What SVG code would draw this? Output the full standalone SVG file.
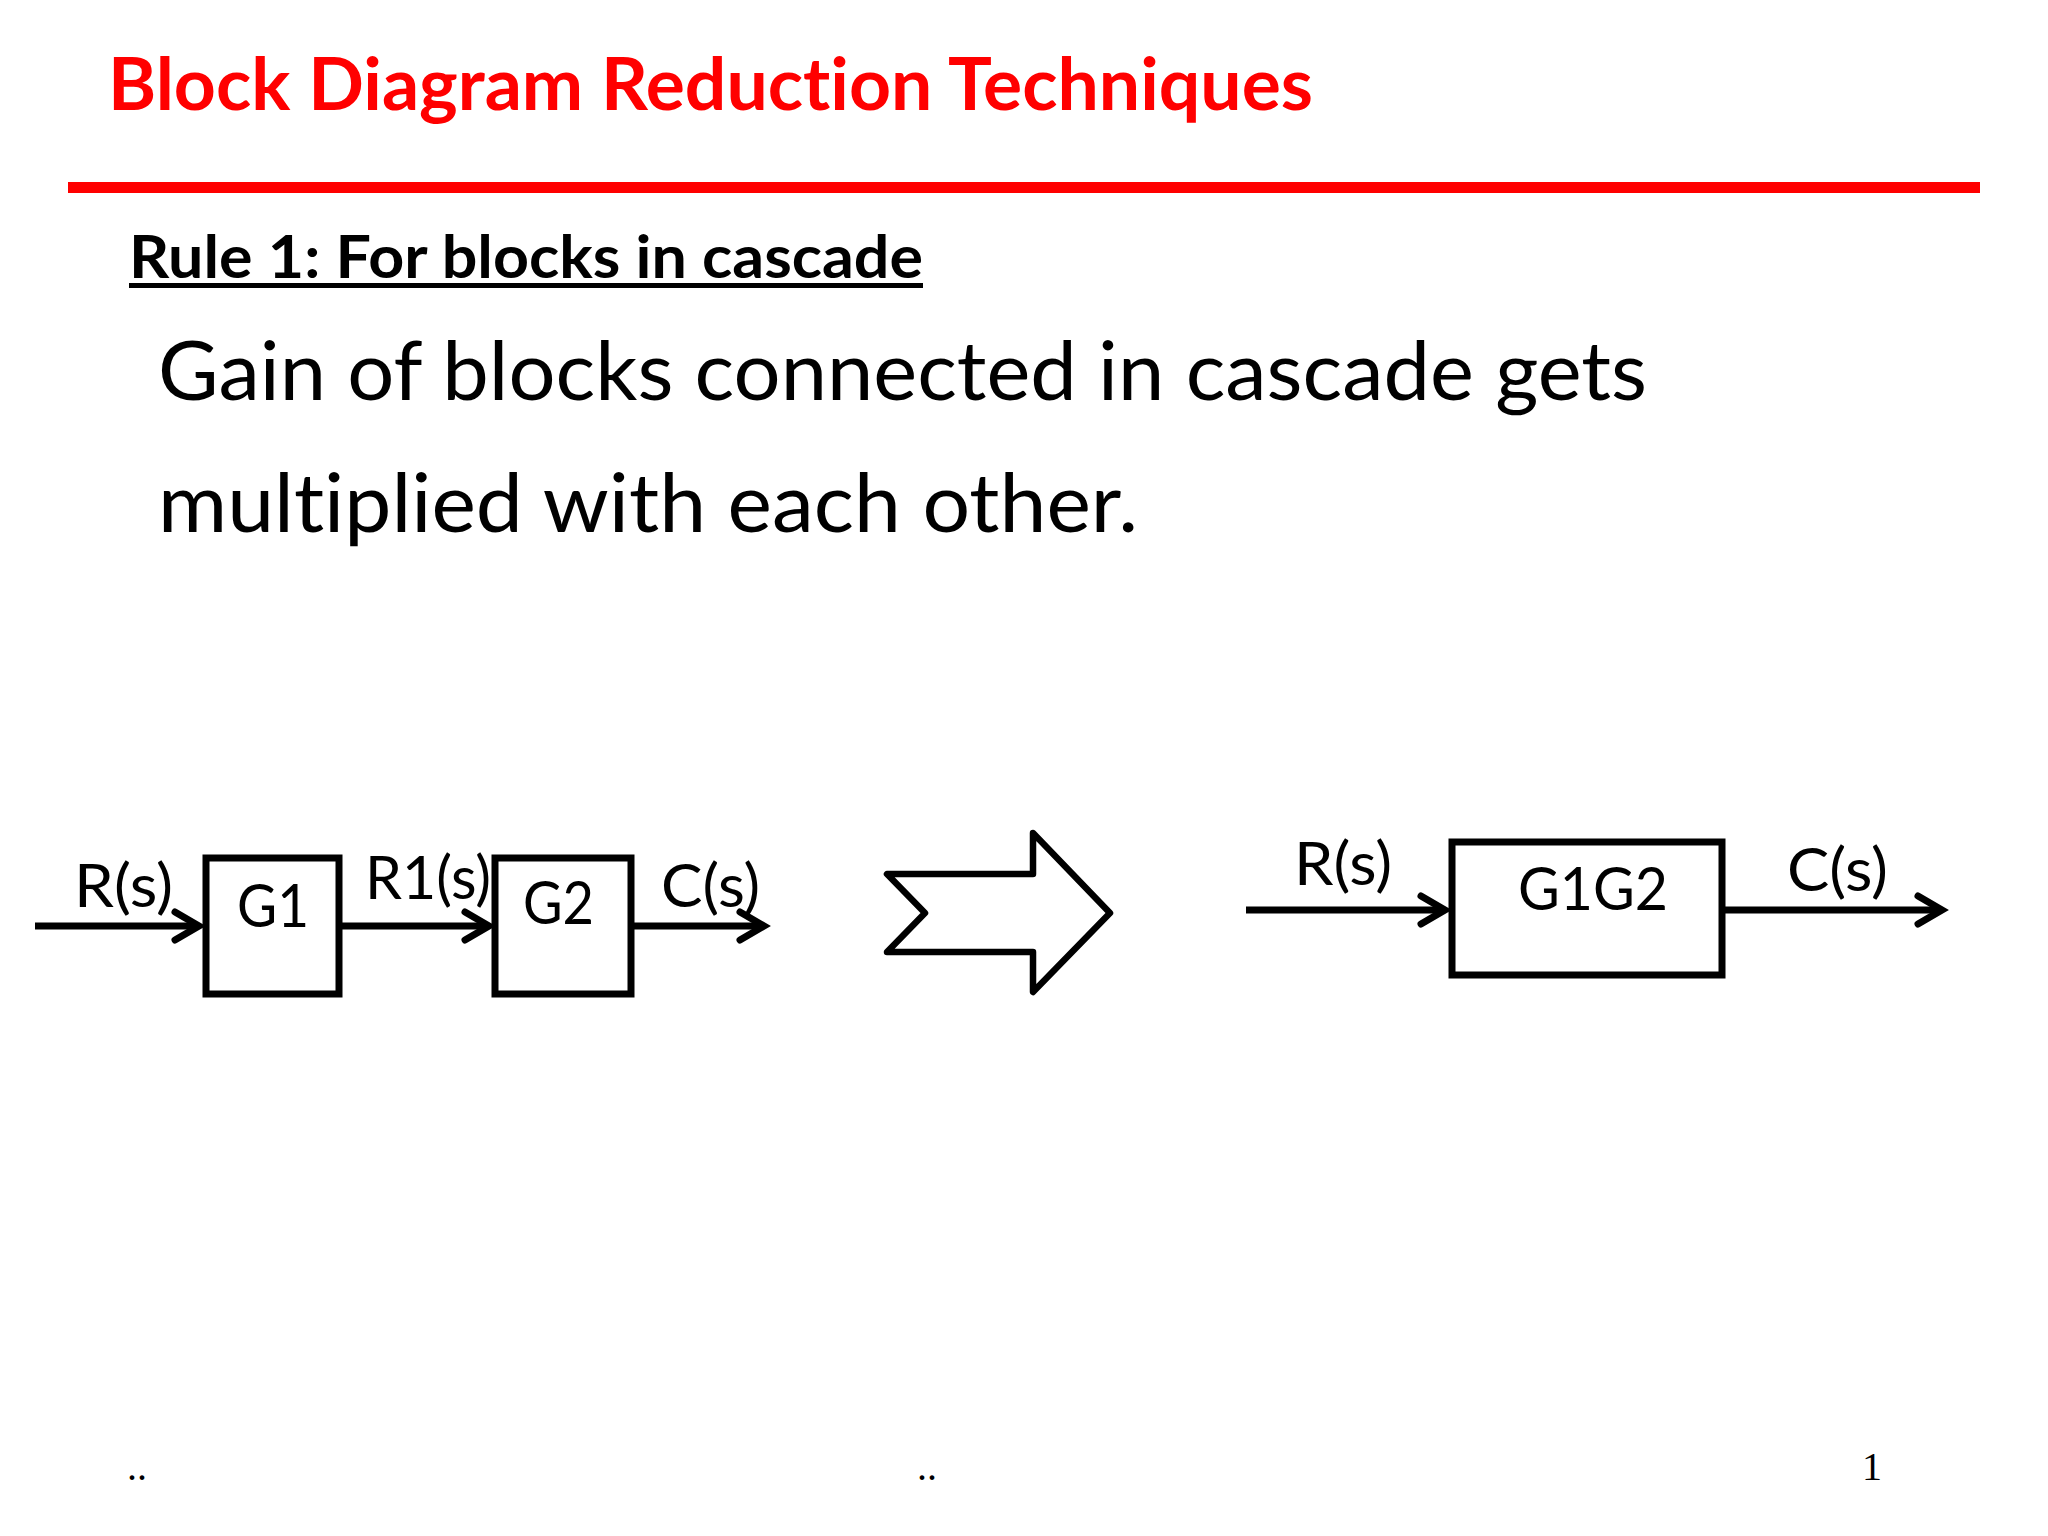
<svg xmlns="http://www.w3.org/2000/svg" width="2048" height="1536" viewBox="0 0 2048 1536">
<defs>
<style>
text{font-variant-ligatures:none;font-feature-settings:"liga" 0,"clig" 0}
.title{font-family:Lato,"Open Sans","Liberation Sans",sans-serif;font-weight:bold;font-size:73px;fill:#ff0000}
.rule{font-family:Lato,"Open Sans","Liberation Sans",sans-serif;font-weight:bold;font-size:60px;fill:#000}
.body{font-family:Lato,"Open Sans","Liberation Sans",sans-serif;font-size:81px;fill:#000}
.lbl{font-family:Lato,"Open Sans","Liberation Sans",sans-serif;font-size:60px;fill:#000}
.foot{font-family:"Liberation Serif",serif;font-size:40px;fill:#000}
.box{fill:#fff;stroke:#000;stroke-width:7}
.wire{fill:none;stroke:#000;stroke-width:7;marker-end:url(#arr)}
</style>
<marker id="arr" markerUnits="userSpaceOnUse" viewBox="-30 -20 40 40" markerWidth="40" markerHeight="40" refX="0" refY="0" orient="auto" overflow="visible">
<path d="M-24,-14 L0,0 L-24,14" fill="none" stroke="#000" stroke-width="7" stroke-linecap="round" stroke-linejoin="miter"/>
</marker>
</defs>
<rect x="0" y="0" width="2048" height="1536" fill="#fff"/>

<g id="header">
<text class="title" x="108" y="110" textLength="1205" lengthAdjust="spacingAndGlyphs">Block Diagram Reduction Techniques</text>
<rect x="68" y="182" width="1912" height="11" fill="#ff0000"/>
<text class="rule" x="129" y="278" textLength="794" lengthAdjust="spacingAndGlyphs">Rule 1: For blocks in cascade</text>
<rect x="129" y="283" width="794" height="5" fill="#000"/>
<text class="body" x="158" y="400" textLength="1489" lengthAdjust="spacingAndGlyphs">Gain of blocks connected in cascade gets</text>
<text class="body" x="158" y="532" textLength="980" lengthAdjust="spacingAndGlyphs">multiplied with each other.</text>
</g>

<g id="connectors">
<line class="wire" x1="35" y1="926" x2="199" y2="926"/>
<line class="wire" x1="342" y1="926" x2="489" y2="926"/>
<line class="wire" x1="634" y1="926" x2="764" y2="926"/>
<line class="wire" x1="1246" y1="910" x2="1445" y2="910"/>
<line class="wire" x1="1725" y1="910" x2="1942" y2="910"/>
</g>

<g id="G1">
<rect class="box" x="206" y="858" width="133" height="136"/>
<text class="lbl" x="237" y="927" textLength="72" lengthAdjust="spacingAndGlyphs">G1</text>
</g>
<g id="G2">
<rect class="box" x="495" y="858" width="136" height="136"/>
<text class="lbl" x="523" y="924" textLength="71" lengthAdjust="spacingAndGlyphs">G2</text>
</g>
<g id="G1G2">
<rect class="box" x="1452" y="842" width="270" height="133"/>
<text class="lbl" x="1518" y="910" textLength="150" lengthAdjust="spacingAndGlyphs">G1G2</text>
</g>

<g id="labels">
<text class="lbl" x="74" y="907" textLength="99" lengthAdjust="spacingAndGlyphs">R(s)</text>
<text class="lbl" x="365" y="899" textLength="126" lengthAdjust="spacingAndGlyphs">R1(s)</text>
<text class="lbl" x="661" y="907" textLength="99" lengthAdjust="spacingAndGlyphs">C(s)</text>
<text class="lbl" x="1294" y="885" textLength="98" lengthAdjust="spacingAndGlyphs">R(s)</text>
<text class="lbl" x="1787" y="891" textLength="101" lengthAdjust="spacingAndGlyphs">C(s)</text>
</g>

<g id="reduce-arrow">
<polygon points="887,874 1033,874 1033,833 1110,913 1033,992 1033,952 887,952 925,913" fill="#fff" stroke="#000" stroke-width="6.5" stroke-linejoin="round"/>
</g>

<g id="footer">
<text class="foot" x="127" y="1480">..</text>
<text class="foot" x="917" y="1480">..</text>
<text class="foot" x="1862" y="1480">1</text>
</g>
</svg>
